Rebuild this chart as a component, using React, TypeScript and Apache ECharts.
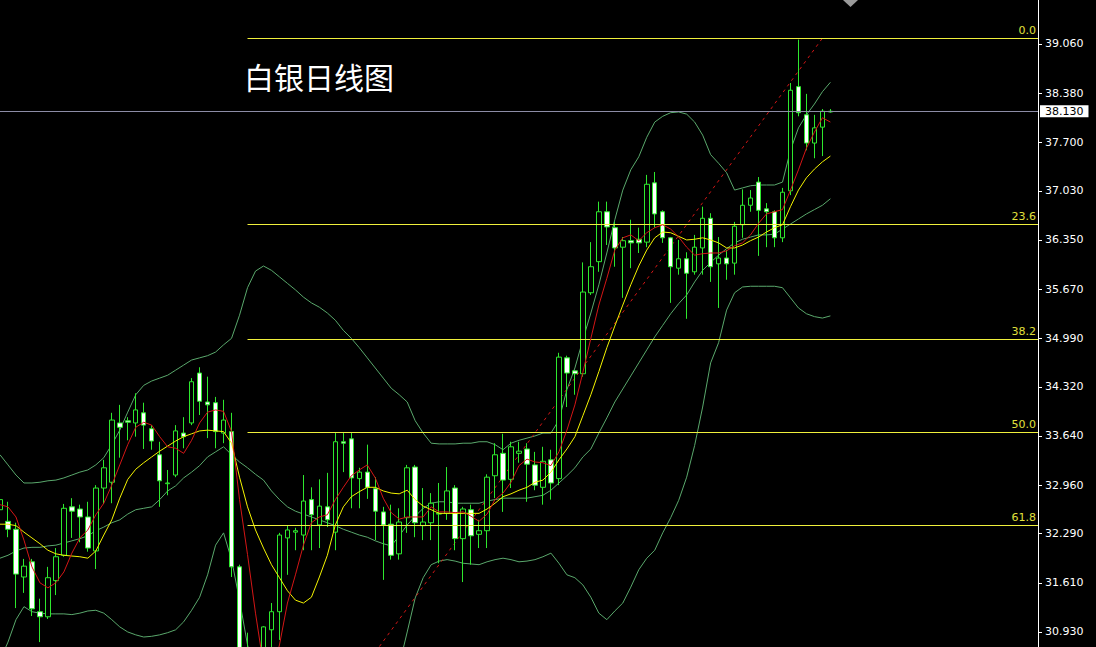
import React, { useEffect, useRef } from "react";
import * as echarts from "echarts";

// ---------- data (bar 0 is the partly hidden bar at the left edge) ----------
const TITLE = "白银日线图";

const opens = [
  32.62, 32.46, 32.35, 31.69, 31.90, 31.21, 31.14, 31.64, 31.99, 32.66,
  32.63, 32.52, 32.05, 32.92, 33.00, 33.82, 33.85, 33.82, 33.96, 33.74,
  33.38, 32.98, 33.10, 33.68, 33.82, 34.51, 34.11, 34.10, 33.68, 33.70,
  31.83, 30.61, 30.13, 30.40, 30.96, 31.21, 32.23, 32.31, 32.27, 32.76,
  32.41, 32.66, 32.31, 33.56, 33.60, 33.05, 33.14, 32.91, 32.59, 32.42,
  32.01, 32.51, 33.21, 32.40, 32.44, 32.56, 32.57, 32.92, 32.22, 32.62,
  32.28, 32.33, 33.09, 33.40, 33.04, 33.40, 33.46, 33.24, 32.93, 33.31,
  33.05, 34.72, 34.54, 34.50, 35.62, 36.05, 36.74, 36.52, 36.25, 36.34,
  36.36, 36.32, 37.14, 36.74, 36.38, 35.96, 36.09, 35.91, 36.24, 36.65,
  36.02, 36.10, 36.03, 36.56, 36.83, 37.15, 36.78, 36.74, 36.38, 37.03,
  38.47, 38.08, 37.69, 37.91, 38.12,
];
const closes = [
  32.76, 32.35, 31.73, 31.84, 31.25, 31.14, 31.68, 31.97, 32.64, 32.60,
  32.52, 32.09, 32.92, 33.20, 33.86, 33.76, 33.83, 34.00, 33.79, 33.57,
  33.02, 32.99, 33.71, 33.63, 34.39, 34.12, 34.07, 33.70, 33.86, 31.83,
  30.61, 30.13, 30.33, 31.00, 31.21, 32.27, 32.34, 32.33, 32.74, 32.55,
  32.67, 32.48, 33.56, 33.54, 33.06, 33.14, 32.93, 32.60, 32.41, 31.99,
  32.45, 33.20, 32.44, 32.45, 32.71, 32.57, 32.88, 32.22, 32.63, 32.26,
  32.33, 33.07, 33.38, 33.03, 33.49, 33.43, 33.25, 32.96, 33.29, 32.99,
  34.73, 34.51, 34.50, 35.63, 35.98, 36.74, 36.53, 36.24, 36.34, 36.31,
  36.31, 37.12, 36.71, 36.38, 35.98, 36.09, 35.89, 36.25, 36.65, 35.98,
  36.10, 36.02, 36.54, 36.83, 36.93, 36.76, 36.74, 36.38, 37.01, 38.42,
  38.11, 37.69, 37.90, 38.13, 38.13,
];
const lows = [
  32.52, 32.24, 31.26, 31.47, 31.15, 30.79, 31.11, 31.44, 31.97, 32.23,
  32.17, 32.04, 31.80, 32.70, 32.71, 33.34, 33.58, 33.63, 33.46, 33.45,
  32.66, 32.82, 33.07, 33.47, 33.79, 33.93, 33.61, 33.47, 33.54, 31.69,
  30.47, 29.99, 29.92, 30.27, 30.61, 30.82, 31.72, 32.06, 32.06, 32.06,
  32.09, 32.38, 32.06, 33.14, 32.64, 32.64, 32.77, 32.20, 31.65, 31.93,
  31.93, 32.30, 32.24, 32.20, 32.20, 31.88, 32.48, 32.06, 31.62, 31.86,
  32.09, 32.09, 32.78, 32.59, 32.92, 33.27, 32.73, 32.89, 32.69, 32.76,
  32.96, 34.04, 34.21, 34.46, 35.59, 35.91, 36.28, 35.98, 35.55, 35.96,
  36.17, 36.25, 36.52, 36.31, 35.48, 35.87, 35.26, 35.87, 35.87, 35.77,
  35.41, 35.80, 35.87, 36.38, 36.74, 36.13, 36.25, 36.25, 36.32, 36.97,
  38.06, 37.59, 37.48, 37.51, 38.11,
];
const highs = [
  32.87, 32.73, 32.44, 31.94, 31.94, 31.39, 31.83, 32.09, 32.70, 32.78,
  32.69, 32.73, 32.96, 33.31, 33.96, 34.07, 33.90, 34.23, 34.10, 33.79,
  33.56, 33.17, 33.79, 33.90, 34.44, 34.59, 34.46, 34.18, 34.14, 33.96,
  31.86, 30.92, 30.68, 31.01, 31.33, 32.30, 32.40, 32.37, 33.10, 32.93,
  33.04, 33.13, 33.68, 33.68, 33.68, 33.20, 33.52, 33.07, 32.66, 32.69,
  32.64, 33.24, 33.24, 32.92, 32.85, 32.99, 33.21, 32.96, 32.66, 32.69,
  32.48, 33.11, 33.54, 33.67, 33.56, 33.56, 33.54, 33.42, 33.49, 33.45,
  34.79, 34.75, 34.55, 36.04, 36.32, 36.88, 36.88, 36.60, 36.39, 36.63,
  36.52, 37.25, 37.29, 36.76, 36.39, 36.35, 36.18, 36.42, 36.81, 36.72,
  36.39, 36.21, 36.60, 37.05, 37.04, 37.22, 36.86, 36.76, 37.07, 38.52,
  39.12, 38.37, 38.08, 38.16, 38.16,
];

// fast average (red)
const ma5 = [
  32.69, 32.66, 32.52, 32.20, 31.83, 31.61, 31.54, 31.61, 31.76, 32.02,
  32.23, 32.34, 32.55, 32.71, 32.96, 33.24, 33.52, 33.76, 33.83, 33.79,
  33.63, 33.49, 33.47, 33.40, 33.58, 33.82, 33.97, 34.00, 33.98, 33.70,
  32.76, 32.00, 31.19, 30.47, 30.33, 30.75, 31.33, 31.72, 32.13, 32.44,
  32.52, 32.55, 32.76, 32.93, 33.09, 33.17, 33.24, 33.06, 32.78, 32.58,
  32.49, 32.52, 32.52, 32.52, 32.66, 32.59, 32.59, 32.58, 32.59, 32.53,
  32.46, 32.56, 32.76, 32.85, 33.00, 33.23, 33.32, 33.28, 33.27, 33.23,
  33.42, 33.72, 34.07, 34.52, 34.99, 35.45, 35.82, 36.21, 36.38, 36.42,
  36.34, 36.45, 36.52, 36.56, 36.50, 36.39, 36.25, 36.14, 36.16, 36.17,
  36.17, 36.20, 36.27, 36.31, 36.42, 36.58, 36.71, 36.74, 36.77, 37.04,
  37.32, 37.62, 37.84, 38.04, 37.98,
];
// slow average (yellow)
const ma10 = [
  32.42, 32.42, 32.40, 32.31, 32.23, 32.15, 32.06, 32.01, 31.99, 31.98,
  31.97, 31.95, 32.05, 32.27, 32.48, 32.78, 33.04, 33.18, 33.27, 33.35,
  33.43, 33.50, 33.57, 33.63, 33.67, 33.71, 33.72, 33.71, 33.70, 33.54,
  33.07, 32.66, 32.34, 32.09, 31.86, 31.68, 31.50, 31.37, 31.33, 31.41,
  31.69, 31.99, 32.41, 32.66, 32.80, 32.87, 32.93, 32.93, 32.88, 32.85,
  32.84, 32.89, 32.76, 32.67, 32.62, 32.57, 32.57, 32.57, 32.57, 32.57,
  32.57, 32.63, 32.71, 32.80, 32.84, 32.89, 32.93, 33.00, 33.03, 33.14,
  33.31, 33.46, 33.63, 33.92, 34.21, 34.53, 34.86, 35.16, 35.45, 35.73,
  35.99, 36.21, 36.38, 36.46, 36.45, 36.40, 36.35, 36.36, 36.38, 36.35,
  36.31, 36.24, 36.24, 36.28, 36.34, 36.39, 36.46, 36.52, 36.56, 36.81,
  37.04, 37.21, 37.33, 37.43, 37.51,
];
// Bollinger bands (green)
const bbUpper = [
  33.38, 33.24, 33.10, 32.99, 32.99, 33.00, 33.02, 33.03, 33.06, 33.10,
  33.14, 33.17, 33.24, 33.34, 33.52, 33.72, 33.97, 34.21, 34.34, 34.40,
  34.44, 34.48, 34.55, 34.62, 34.69, 34.72, 34.75, 34.80, 34.90, 34.99,
  35.31, 35.69, 35.92, 35.99, 35.93, 35.84, 35.75, 35.66, 35.56, 35.48,
  35.42, 35.34, 35.24, 35.10, 34.99, 34.86, 34.72, 34.58, 34.44, 34.30,
  34.21, 34.11, 33.85, 33.68, 33.54, 33.53, 33.53, 33.53, 33.54, 33.54,
  33.56, 33.56, 33.52, 33.45, 33.54, 33.58, 33.61, 33.64, 33.68, 33.68,
  33.86, 34.28, 34.58, 34.97, 35.34, 35.73, 36.17, 36.63, 37.04, 37.32,
  37.50, 37.77, 37.98, 38.06, 38.11, 38.12, 38.09, 37.98, 37.80, 37.53,
  37.41, 37.28, 37.04, 37.07, 37.10, 37.11, 37.11, 37.11, 37.15, 37.59,
  37.90, 38.08, 38.23, 38.40, 38.53,
];
const bbMiddle = [
  31.95, 31.99, 32.05, 32.09, 32.10, 32.10, 32.12, 32.13, 32.16, 32.19,
  32.22, 32.26, 32.33, 32.38, 32.44, 32.48, 32.56, 32.62, 32.64, 32.66,
  32.76, 32.88, 32.95, 33.06, 33.14, 33.23, 33.35, 33.42, 33.49, 33.38,
  33.28, 33.20, 33.11, 33.03, 32.88, 32.76, 32.66, 32.60, 32.56, 32.52,
  32.48, 32.44, 32.40, 32.35, 32.31, 32.27, 32.24, 32.19, 32.15, 32.12,
  32.26, 32.41, 32.53, 32.64, 32.71, 32.73, 32.73, 32.71, 32.71, 32.71,
  32.71, 32.74, 32.76, 32.78, 32.78, 32.78, 32.78, 32.80, 32.82, 32.89,
  32.99, 33.09, 33.20, 33.35, 33.46, 33.68, 33.89, 34.11, 34.29, 34.47,
  34.65, 34.83, 35.01, 35.17, 35.33, 35.47, 35.59, 35.77, 35.93, 36.04,
  36.14, 36.23, 36.31, 36.36, 36.39, 36.42, 36.42, 36.43, 36.50, 36.57,
  36.64, 36.71, 36.77, 36.83, 36.92,
];
const bbLower = [
  30.54, 30.79, 31.10, 31.28, 31.21, 31.19, 31.18, 31.18, 31.18, 31.17,
  31.19, 31.22, 31.23, 31.19, 31.10, 31.00, 30.93, 30.89, 30.86, 30.87,
  30.89, 30.92, 30.96, 31.07, 31.23, 31.41, 31.72, 32.13, 32.30, 31.93,
  31.37, 30.75, 30.31, 30.07, 29.82, 29.67, 29.56, 29.55, 29.56, 29.56,
  29.53, 29.53, 29.55, 29.60, 29.63, 29.69, 29.77, 29.80, 29.85, 29.93,
  30.47, 30.93, 31.40, 31.68, 31.86, 31.91, 31.93, 31.91, 31.88, 31.87,
  31.86, 31.90, 31.93, 31.95, 31.93, 31.90, 31.91, 31.93, 31.97, 32.02,
  31.88, 31.72, 31.68, 31.58, 31.41, 31.19, 31.10, 31.22, 31.33, 31.55,
  31.79, 31.95, 32.06, 32.30, 32.51, 32.75, 33.07, 33.51, 34.04, 34.65,
  34.93, 35.38, 35.62, 35.70, 35.71, 35.71, 35.71, 35.71, 35.69, 35.55,
  35.41, 35.33, 35.29, 35.27, 35.30,
];

const yTicks = [30.93, 31.61, 32.29, 32.96, 33.64, 34.32, 34.99, 35.67, 36.35, 37.03, 37.70, 38.38, 39.06];
const yMin = 30.722;
const yMax = 39.668;

const fibHigh = 39.14;
const fibLow = 28.24;
const fibRatios = [0.0, 23.6, 38.2, 50.0, 61.8];
const fibStartBar = 31;

const currentPrice = 38.13;
const trendStart = { bar: 47, price: 30.65 };
const trendEnd = { bar: 103, price: 39.14 };

const totalSlots = 131; // bars plus empty space on the right (chart shift)

// ---------- styles ----------
const GREEN = "#2ee82e";
const BAND = "#5aa86c";
const RED = "#d41616";
const YELLOW = "#f4f400";
const FIB = "#f0f03c";
const FIB_TEXT = "#e0e03c";
const FONT = "DejaVu Sans";

export default function App() {
  const ref = useRef<HTMLDivElement | null>(null);

  useEffect(() => {
    if (!ref.current) return;
    const chart = echarts.init(ref.current, null, { renderer: "svg" });

    const slots = Array.from({ length: totalSlots }, (_, i) => String(i));
    const candles = opens.map((o, i) => [o, closes[i], lows[i], highs[i]]);
    const trend = slots.map((_, i) =>
      i === trendStart.bar ? trendStart.price : i === trendEnd.bar ? trendEnd.price : null
    );

    const line = (name: string, data: (number | null)[], color: string, z: number, extra: any = {}) => ({
      type: "line",
      name,
      data,
      symbol: "none",
      showSymbol: false,
      silent: true,
      z,
      lineStyle: { color, width: 1 },
      ...extra,
    });

    const fibLines = fibRatios.map((r) => {
      const price = fibHigh - ((fibHigh - fibLow) * r) / 100;
      return [
        { name: r.toFixed(1), coord: [fibStartBar, price] },
        { coord: [totalSlots - 1, price] },
      ];
    });

    chart.setOption({
      animation: false,
      backgroundColor: "#000000",
      grid: { left: -2, right: 58, top: 0, bottom: 0, containLabel: false },
      xAxis: {
        type: "category",
        data: slots,
        boundaryGap: false,
        show: false,
      },
      yAxis: {
        type: "value",
        position: "right",
        min: yMin,
        max: yMax,
        scale: true,
        splitLine: { show: false },
        axisLine: { show: true, lineStyle: { color: "#ffffff", width: 1 } },
        axisTick: {
          show: true,
          inside: false,
          length: 4,
          customValues: yTicks,
          lineStyle: { color: "#ffffff" },
        },
        axisLabel: {
          show: true,
          customValues: yTicks,
          color: "#ffffff",
          fontFamily: FONT,
          fontSize: 11,
          margin: 7,
          formatter: (v: number) => v.toFixed(3),
        },
      },
      graphic: [
        {
          type: "text",
          left: 244,
          top: 61,
          style: {
            text: TITLE,
            fill: "#ffffff",
            fontSize: 30,
            fontFamily: "Noto Sans CJK SC",
          },
        },
        {
          type: "polygon",
          shape: { points: [[843, 0], [858, 0], [850.5, 7]] },
          style: { fill: "#9a9a9a" },
        },
      ],
      series: [
        line("BB Upper", bbUpper, BAND, 3),
        line("BB Middle", bbMiddle, BAND, 3),
        line("BB Lower", bbLower, BAND, 3),
        line("Trend", trend, RED, 3, {
          connectNulls: true,
          lineStyle: { color: RED, width: 1, type: [3, 4] },
        }),
        {
          type: "candlestick",
          name: "Silver",
          data: candles,
          barWidth: 5,
          z: 4,
          silent: true,
          itemStyle: {
            color: "#000000",
            color0: "#ffffff",
            borderColor: GREEN,
            borderColor0: GREEN,
            borderWidth: 1,
          },
          markLine: {
            silent: true,
            symbol: ["none", "none"],
            animation: false,
            lineStyle: { color: FIB, width: 1, type: "solid" },
            label: {
              show: true,
              position: "insideEndTop",
              formatter: "{b}",
              color: FIB_TEXT,
              fontFamily: FONT,
              fontSize: 11,
              distance: 2,
            },
            data: fibLines,
          },
        },
        line("MA10", ma10, YELLOW, 5),
        line("MA5", ma5, RED, 6, {
          markLine: {
            silent: true,
            symbol: ["none", "none"],
            animation: false,
            lineStyle: { color: "#8c8ca6", width: 1, type: "solid" },
            label: {
              show: true,
              position: "end",
              formatter: "{b}",
              color: "#000000",
              backgroundColor: "#ffffff",
              padding: [1, 5, 0, 5],
              fontFamily: FONT,
              fontSize: 11,
              distance: 2,
            },
            data: [
              [
                { name: currentPrice.toFixed(3), coord: [0, currentPrice] },
                { coord: [totalSlots - 1, currentPrice] },
              ],
            ],
          },
        }),
      ],
    });

    return () => chart.dispose();
  }, []);

  return (
    <div
      ref={ref}
      style={{ position: "fixed", left: 0, top: 0, width: 1096, height: 647, background: "#000" }}
    />
  );
}
